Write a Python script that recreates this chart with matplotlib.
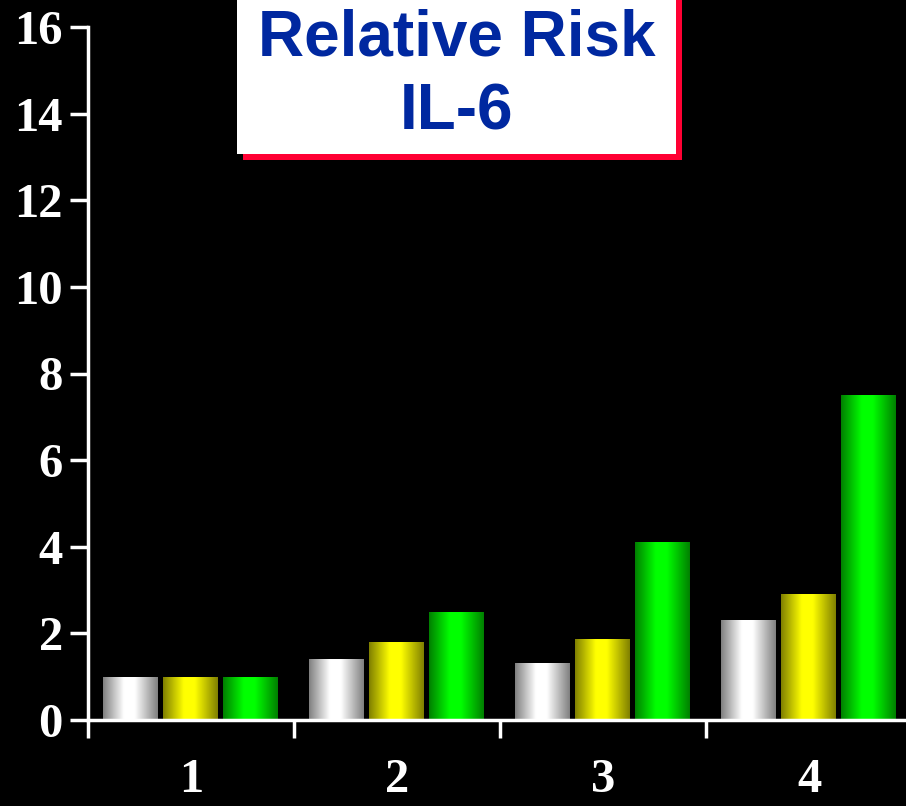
import numpy as np
import matplotlib.pyplot as plt
from matplotlib.patches import Rectangle

# Relative risk by quartile, three series per group
groups = ["1", "2", "3", "4"]
white_vals = [1.0, 1.4, 1.32, 2.3]
yellow_vals = [1.0, 1.8, 1.88, 2.9]
green_vals = [1.0, 2.5, 4.1, 7.5]
yticks = [0, 2, 4, 6, 8, 10, 12, 14, 16]

series = [
    (white_vals, (1.0, 1.0, 1.0), -0.295),
    (yellow_vals, (1.0, 1.0, 0.0), -0.005),
    (green_vals, (0.0, 1.0, 0.0), 0.29),
]
bar_w = 0.265

fig = plt.figure(figsize=(9.06, 8.06), dpi=100, facecolor="black")
ax = fig.add_axes([88 / 906, 86 / 806, 824 / 906, 693 / 806])
ax.set_facecolor("black")

# horizontal shading across each bar: dim edges, bright middle
xs = np.linspace(0, 1, 200)
shade = np.interp(xs, [0, 0.38, 0.58, 1], [0.5, 1.0, 1.0, 0.5])

x = np.arange(1, len(groups) + 1)
for vals, rgb, off in series:
    grad = np.zeros((1, len(xs), 3))
    for c in range(3):
        grad[0, :, c] = shade * rgb[c]
    bars = ax.bar(x + off, vals, width=bar_w, color="none", edgecolor="none", zorder=2)
    for b in bars:
        x0, w, h = b.get_x(), b.get_width(), b.get_height()
        im = ax.imshow(grad, extent=[x0, x0 + w, -0.05, h], aspect="auto",
                       interpolation="bilinear", zorder=2)
        im.set_clip_path(b)

ax.set_xlim(0.5, 4.5)
ax.set_ylim(0, 16)

for s in ["top", "right"]:
    ax.spines[s].set_visible(False)
for s in ["left", "bottom"]:
    ax.spines[s].set_color("white")
    ax.spines[s].set_linewidth(2.5)
    ax.spines[s].set_zorder(3)

ax.set_yticks(yticks)
ax.set_yticklabels([str(t) for t in yticks])
ax.set_xticks(x)
ax.set_xticklabels(groups)
ax.set_xticks(np.arange(0.5, 5.0, 1.0), minor=True)
ax.tick_params(axis="x", which="major", length=0, pad=27)
ax.tick_params(axis="x", which="minor", length=13, width=2.5, color="white", direction="out")
ax.tick_params(axis="y", length=13, width=2.5, color="white", direction="out", pad=5)
for lab in ax.get_xticklabels() + ax.get_yticklabels():
    lab.set_fontfamily("Liberation Serif")
    lab.set_fontweight("bold")
    lab.set_fontsize(35)
    lab.set_color("white")

# title box with red drop shadow
fig.patches.append(Rectangle((243 / 906, 1 - 160 / 806), 439 / 906, 170 / 806,
                             transform=fig.transFigure, facecolor="#ff0033",
                             edgecolor="none", zorder=5))
fig.patches.append(Rectangle((237 / 906, 1 - 154 / 806), 439 / 906, 170 / 806,
                             transform=fig.transFigure, facecolor="white",
                             edgecolor="none", zorder=6))
fig.text(457 / 906, 1 - 38 / 806, "Relative Risk", ha="center", va="center",
         fontsize=46, fontweight="bold", family="Liberation Sans", color="#0028a0", zorder=7)
fig.text(457 / 906, 1 - 112 / 806, "IL-6", ha="center", va="center",
         fontsize=46, fontweight="bold", family="Liberation Sans", color="#0028a0", zorder=7)

fig.savefig("out.png", dpi=100, facecolor="black")
